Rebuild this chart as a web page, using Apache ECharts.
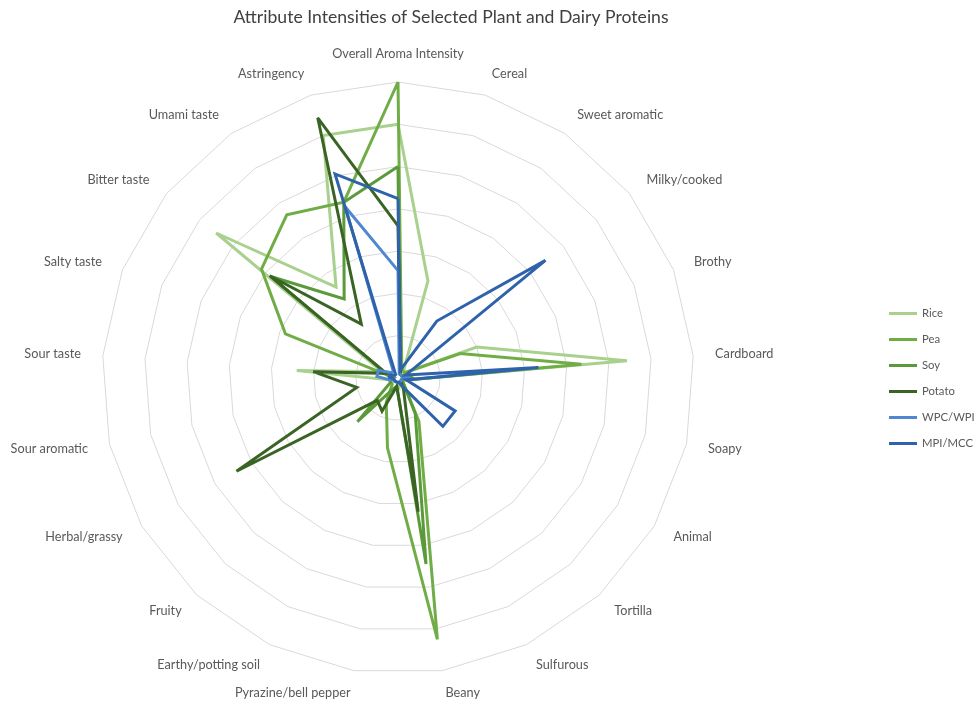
<!DOCTYPE html>
<html><head><meta charset="utf-8">
<script src="https://cdn.jsdelivr.net/npm/echarts@6/dist/echarts.min.js"></script>
<style>html,body{margin:0;padding:0;background:#fff}#c{width:974px;height:704px}</style>
</head><body><div id="c"></div>
<script>
// attributes in clockwise order starting at the top
const attributes = ['Overall Aroma Intensity','Cereal','Sweet aromatic','Milky/cooked','Brothy','Cardboard','Soapy','Animal','Tortilla','Sulfurous','Beany','Pyrazine/bell pepper','Earthy/potting soil','Fruity','Herbal/grassy','Sour aromatic','Sour taste','Salty taste','Bitter taste','Umami taste','Astringency'];
const seriesNames = ['Rice','Pea','Soy','Potato','WPC/WPI','MPI/MCC'];
const rice   = [6.0, 2.4, 0.25, 0.2, 2.0, 5.43, 0.2, 0.1, 0.1, 0.1, 0.2, 0.1, 0.1, 0.1, 0.2, 0.2, 2.4, 0.4, 5.5, 2.6, 6.0];
const pea    = [7.0, 0.3, 0.2, 0.2, 1.58, 4.35, 0.2, 0.1, 0.2, 1.14, 6.25, 1.67, 0.64, 0.2, 0.2, 0.2, 0.1, 2.86, 4.13, 4.67, 4.35];
const soy    = [5.0, 0.2, 0.1, 0.1, 0.2, 0.3, 0.1, 0.1, 0.2, 0.94, 4.45, 0.2, 0.3, 1.41, 0.2, 0.2, 0.2, 0.3, 3.85, 2.26, 4.35];
const potato = [3.6, 0.2, 0.1, 0.1, 0.1, 0.2, 0.1, 0.1, 0.1, 0.3, 3.2, 0.2, 0.87, 0.72, 4.41, 1.0, 2.01, 0.3, 3.88, 1.54, 6.44];
const wpc    = [2.54, 0.1, 0.1, 0.1, 0.1, 0.3, 0.1, 0.1, 0.1, 0.1, 0.1, 0.1, 0.1, 0.1, 0.1, 0.2, 0.5, 0.5, 0.2, 0.2, 4.24];
const mpi    = [4.24, 0.2, 1.63, 4.46, 0.2, 3.33, 0.2, 1.56, 1.56, 0.2, 0.1, 0.1, 0.1, 0.1, 0.1, 0.1, 0.2, 0.2, 0.1, 0.1, 5.05];
const colors = ['#a9d18e','#70ad47','#5b9a3a','#3a6424','#4f88d0','#2e62aa'];
const scaleMax = 7;

// ECharts lays radar indicators counter-clockwise; reorder so they appear clockwise
const order = [0].concat(attributes.map((_, i) => i).slice(1).reverse());
const reorder = arr => order.map(i => arr[i]);
const values = [rice, pea, soy, potato, wpc, mpi];

const chart = echarts.init(document.getElementById('c'));
chart.setOption({
  animation: false,
  title: {
    text: 'Attribute Intensities of Selected Plant and Dairy Proteins',
    left: 446, top: 3, textAlign: 'center',
    textStyle: {fontFamily: 'Lato', fontSize: 17.6, fontWeight: 'normal', color: '#404040'}
  },
  legend: {
    orient: 'vertical', left: 884, top: 303, itemGap: 15,
    icon: 'rect', itemWidth: 28, itemHeight: 3,
    textStyle: {fontFamily: 'Lato', fontSize: 11.3, color: '#595959'},
    data: seriesNames
  },
  radar: {
    center: [398, 378], radius: 296, startAngle: 90,
    shape: 'polygon', splitNumber: 7,
    indicator: reorder(attributes).map(n => ({name: n, min: 0, max: scaleMax})),
    axisName: {fontFamily: 'Lato', fontSize: 12.7, color: '#595959'},
    nameGap: 22,
    axisLine: {show: false},
    axisTick: {show: false},
    splitArea: {show: false},
    splitLine: {lineStyle: {color: '#d9d9d9', width: 1}}
  },
  series: [{
    type: 'radar',
    symbol: 'none',
    data: seriesNames.map((n, k) => ({
      name: n,
      value: reorder(values[k]),
      lineStyle: {color: colors[k], width: 3, join: 'miter', miterLimit: 4},
      itemStyle: {color: colors[k]}
    }))
  }]
});
</script></body></html>
